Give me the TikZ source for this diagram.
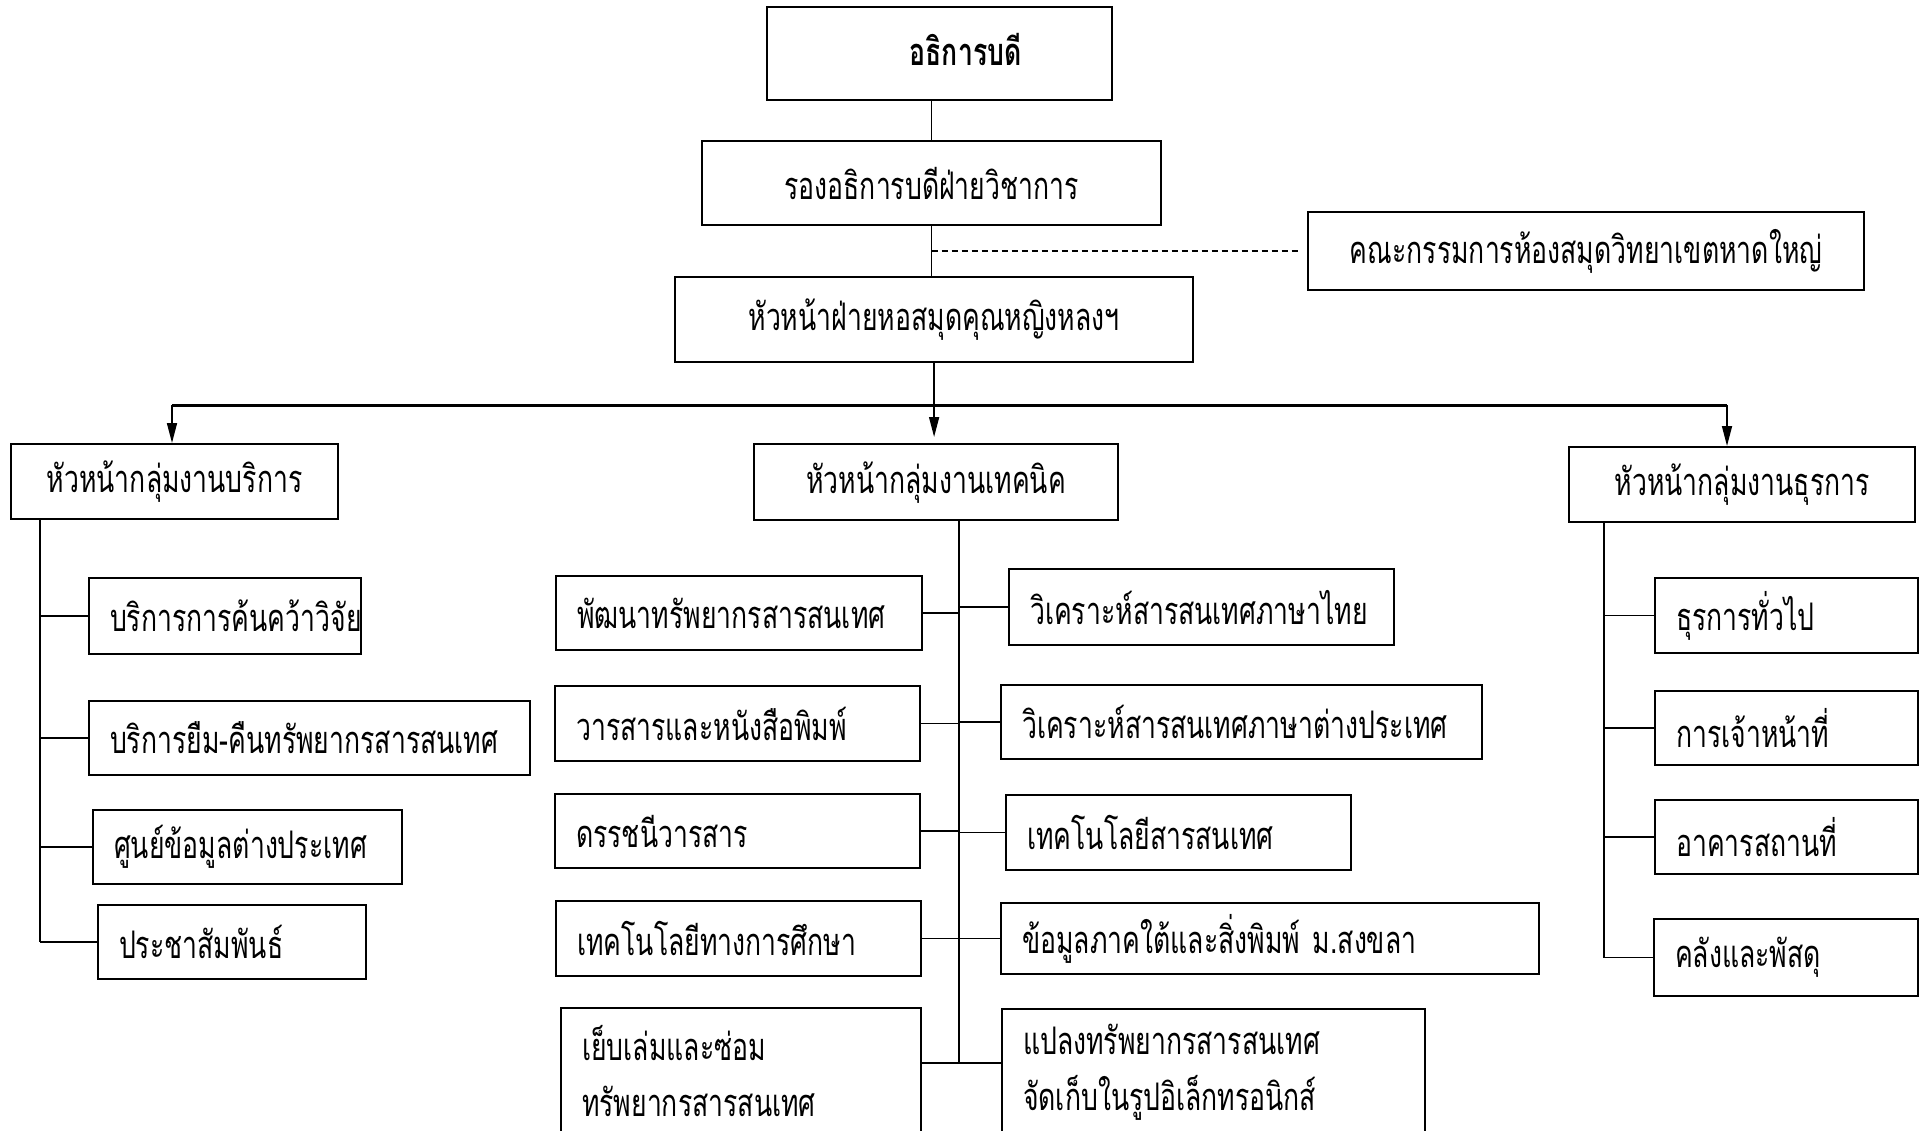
\documentclass[tikz,border=0pt]{standalone}
\usepackage{fontspec}
\newfontfamily\thai[Script=Thai,FakeStretch=0.70]{Loma}
\usetikzlibrary{arrows.meta}
\begin{document}
\begin{tikzpicture}[x=1pt,y=-1pt,
  every node/.style={font=\thai\fontsize{38}{56}\selectfont},
  box/.style={draw, line width=2.2pt, rectangle, inner sep=0pt, anchor=north west, align=center},
  lbox/.style={box, inner xsep=21pt, inner ysep=0pt, align=left},
  conn/.style={line width=1.6pt},
  arr/.style={conn, -{Triangle[length=20pt,width=10pt]}},
  dashline/.style={line width=2pt, dash pattern=on 6pt off 4pt}]
\useasboundingbox (0,0) rectangle (1921,1131);
\clip (0,0) rectangle (1921,1131);
\fill[white] (0,0) rectangle (1921,1131);

% top chain
\node[box, minimum width=345, minimum height=93] (dir) at (766,6) {\raisebox{8pt}{\hspace*{52pt}\bfseries อธิการบดี}};
\node[box, minimum width=459, minimum height=84] (vp) at (701,140) {รองอธิการบดีฝ่ายวิชาการ};
\node[box, minimum width=556, minimum height=78] (com) at (1307,211) {คณะกรรมการห้องสมุดวิทยาเขตหาดใหญ่};
\node[box, minimum width=518, minimum height=85] (head) at (674,276) {หัวหน้าฝ่ายหอสมุดคุณหญิงหลงฯ};

% group heads
\node[box, minimum width=327, minimum height=75] (gs) at (10,443) {หัวหน้ากลุ่มงานบริการ};
\node[box, minimum width=364, minimum height=76] (gt) at (753,443) {หัวหน้ากลุ่มงานเทคนิค};
\node[box, minimum width=346, minimum height=75] (ga) at (1568,446) {หัวหน้ากลุ่มงานธุรการ};

% service column
\node[lbox, text width=230, minimum height=76] (LB1) at (88,577) {บริการการค้นคว้าวิจัย};
\node[lbox, text width=399, minimum height=74] (LB2) at (88,700) {บริการยืม-คืนทรัพยากรสารสนเทศ};
\node[lbox, text width=267, minimum height=74] (LB3) at (92,809) {ศูนย์ข้อมูลต่างประเทศ};
\node[lbox, text width=226, minimum height=74] (LB4) at (97,904) {ประชาสัมพันธ์};

% technical column, left
\node[lbox, text width=324, minimum height=74] (ML1) at (555,575) {พัฒนาทรัพยากรสารสนเทศ};
\node[lbox, text width=323, minimum height=75] (ML2) at (554,685) {วารสารและหนังสือพิมพ์};
\node[lbox, text width=323, minimum height=74] (ML3) at (554,793) {ดรรชนีวารสาร};
\node[lbox, text width=323, minimum height=75] (ML4) at (555,900) {เทคโนโลยีทางการศึกษา};
\node[lbox, text width=318, minimum height=126] (ML5) at (560,1007) {เย็บเล่มและซ่อม\\ทรัพยากรสารสนเทศ};

% technical column, right
\node[lbox, text width=343, minimum height=76] (MR1) at (1008,568) {วิเคราะห์สารสนเทศภาษาไทย};
\node[lbox, text width=439, minimum height=74] (MR2) at (1000,684) {วิเคราะห์สารสนเทศภาษาต่างประเทศ};
\node[lbox, text width=303, minimum height=75] (MR3) at (1005,794) {เทคโนโลยีสารสนเทศ};
\node[lbox, text width=496, minimum height=71] (MR4) at (1000,902) {ข้อมูลภาคใต้และสิ่งพิมพ์ ม.สงขลา};
\node[lbox, text width=381, minimum height=126] (MR5) at (1001,1008) {แปลงทรัพยากรสารสนเทศ\\จัดเก็บในรูปอิเล็กทรอนิกส์};

% admin column
\node[lbox, text width=221, minimum height=75] (RB1) at (1654,577) {ธุรการทั่วไป};
\node[lbox, text width=221, minimum height=74] (RB2) at (1654,690) {การเจ้าหน้าที่};
\node[lbox, text width=221, minimum height=74] (RB3) at (1654,799) {อาคารสถานที่};
\node[lbox, text width=222, minimum height=77] (RB4) at (1653,918) {คลังและพัสดุ};

% top connectors
\draw[conn] (vp.north) -- (vp.north |- dir.south);
\draw[conn] (vp.south) -- (vp.south |- head.north);
\coordinate (dj) at (vp.south |- com.west);
\draw[dashline] (dj) -- ([xshift=-8pt]com.west);

% bus
\coordinate (bus) at ([yshift=-42pt]head.south);
\coordinate (busL) at (172,0 |- bus);
\coordinate (busR) at (1727,0 |- bus);
\draw[line width=2.6pt] (busL) -- (busR);
\draw[arr] (head.south) -- ([yshift=6pt]head.south |- gt.north);
\draw[arr] (busL) -- (busL |- gs.north);
\draw[arr] (busR) -- (busR |- ga.north);

% service spine
\coordinate (ls) at ([xshift=30pt]gs.south west);
\draw[conn] (ls) -- (ls |- LB4.west);
\foreach \b in {LB1,LB2,LB3,LB4} \draw[conn] (ls |- \b.west) -- (\b.west);

% technical spine
\coordinate (ms) at ([xshift=23pt]gt.south);
\coordinate (ml5) at ([yshift=-56pt]ML5.north east);
\coordinate (mr5) at ([yshift=-55pt]MR5.north west);
\draw[conn] (ms) -- (ms |- ml5);
\foreach \b in {ML1,ML2,ML3,ML4} \draw[conn] (\b.east) -- (ms |- \b.east);
\foreach \b in {MR1,MR2,MR3,MR4} \draw[conn] (ms |- \b.west) -- (\b.west);
\draw[conn] (ml5) -- (ms |- ml5);
\draw[conn] (ms |- mr5) -- (mr5);

% admin spine
\coordinate (rs) at ([xshift=36pt]ga.south west);
\draw[conn] (rs) -- (rs |- RB4.west);
\foreach \b in {RB1,RB2,RB3,RB4} \draw[conn] (rs |- \b.west) -- (\b.west);
\end{tikzpicture}
\end{document}
